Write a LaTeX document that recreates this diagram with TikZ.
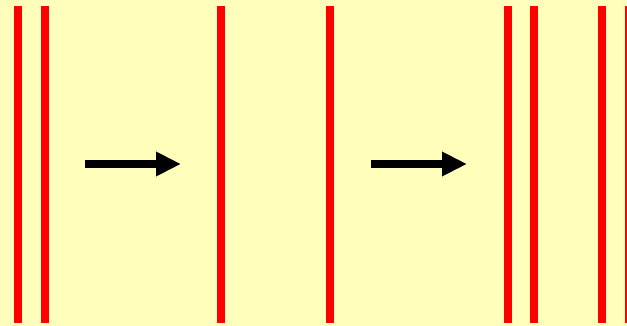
\documentclass[tikz,border=0pt]{standalone}
\usetikzlibrary{arrows.meta}
\definecolor{paleyellow}{HTML}{FFFFBB}
\definecolor{wallred}{HTML}{FF0000}

\begin{document}
\begin{tikzpicture}[
    x=1pt, y=-1pt,
    wall/.style      = {draw=wallred, line width=8pt},
    pusharrow/.style = {draw=black, line width=8pt,
                        -{Triangle[length=25pt, width=23pt]}}
]

% =========================================================
% BACKGROUND
% =========================================================
\fill[paleyellow] (0,0) rectangle (627,326);
\useasboundingbox (0,0) rectangle (627,326);

% =========================================================
% RED LINES
% =========================================================
\foreach \xpos in {17.5, 44.5, 221, 330, 507.5, 534, 602, 629}
  \draw[wall] (\xpos,6) -- (\xpos,323);

% =========================================================
% ARROWS
% =========================================================
\coordinate (a1start) at (85,164);
\coordinate (a1end)   at (181,164);
\coordinate (a2start) at (371,164);
\coordinate (a2end)   at (467,164);

\draw[pusharrow] (a1start) -- (a1end);
\draw[pusharrow] (a2start) -- (a2end);

\end{tikzpicture}
\end{document}
